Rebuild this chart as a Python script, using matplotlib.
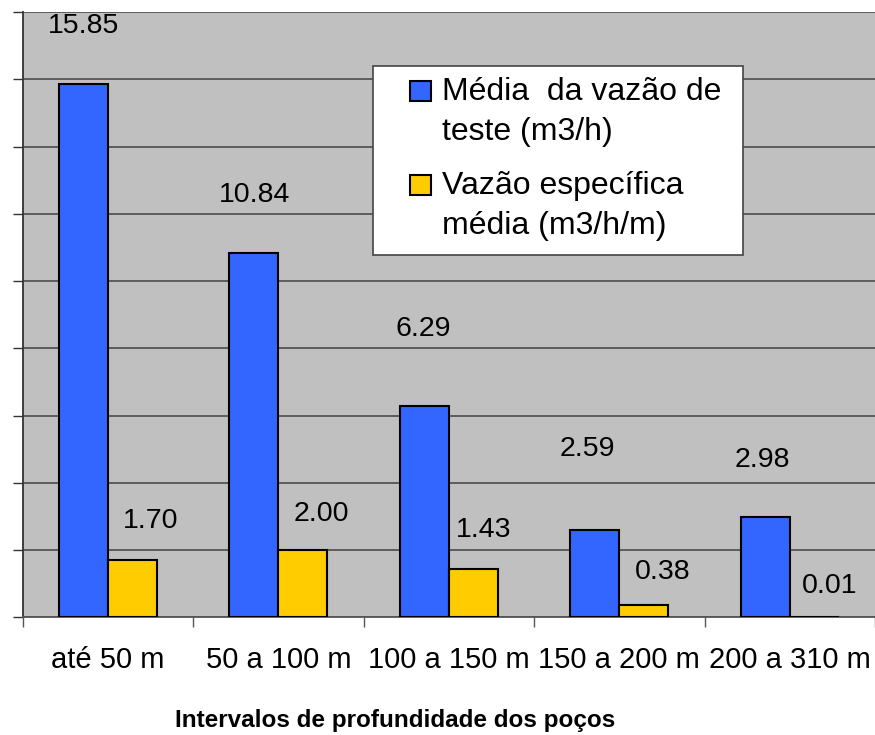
import matplotlib
matplotlib.use('Agg')
import matplotlib.pyplot as plt
from matplotlib.patches import Rectangle
import numpy as np

plt.rcParams['font.family'] = ['Liberation Sans', 'DejaVu Sans']

intervalos = ['até 50 m', '50 a 100 m', '100 a 150 m', '150 a 200 m', '200 a 310 m']
vazao_teste = [15.85, 10.84, 6.29, 2.59, 2.98]
vazao_especifica = [1.70, 2.00, 1.43, 0.38, 0.01]

legenda_teste = 'Média  da vazão de\nteste (m3/h)'
legenda_especifica = 'Vazão específica\nmédia (m3/h/m)'
titulo_x = 'Intervalos de profundidade dos poços'

# deslocamento manual dos rótulos (pixels), como no original
desl_azul = [(0, 58), (1, 58), (-1, 77), (-7, 81), (-3, 57)]
desl_amarelo = [(18, 39), (18, 36), (10, 39), (19, 33), (15, 31)]

azul = '#3366FF'
amarelo = '#FFCC00'
cinza = '#C0C0C0'

W, H = 875, 735
fig = plt.figure(figsize=(W / 100, H / 100), dpi=100)
ax = fig.add_axes([22.7 / W, 1 - 617.3 / H, 1 - 22.7 / W, (617.3 - 12) / H])
ax.set_facecolor(cinza)

x = np.arange(len(intervalos))
w = 0.288
b1 = ax.bar(x - w / 2, vazao_teste, w, color=azul, edgecolor='black', linewidth=1.5, zorder=3)
b2 = ax.bar(x + w / 2, vazao_especifica, w, color=amarelo, edgecolor='black', linewidth=1.5, zorder=3)

for rect, v, d in zip(b1, vazao_teste, desl_azul):
    ax.annotate(f'{v:.2f}', (rect.get_x() + rect.get_width() / 2, v), xytext=d,
                textcoords='offset pixels', ha='center', va='center', fontsize=20.5)
for rect, v, d in zip(b2, vazao_especifica, desl_amarelo):
    ax.annotate(f'{v:.2f}', (rect.get_x() + rect.get_width() / 2, v), xytext=d,
                textcoords='offset pixels', ha='center', va='center', fontsize=20.5)

ax.set_ylim(0, 18)
ax.set_yticks(np.arange(0, 19, 2))
ax.set_yticklabels([])
ax.set_xlim(-0.5, (W - 22.7) / 171.3 - 0.5)
ax.set_xticks(np.arange(len(intervalos) + 1) - 0.5)
ax.set_xticklabels([])
ax.set_xticks(x, minor=True)
ax.set_xticklabels(intervalos, minor=True, fontsize=21)
ax.tick_params(axis='x', which='minor', length=0, pad=21)
ax.tick_params(axis='x', which='major', length=7, width=1, color='#555555')
ax.tick_params(axis='y', length=7.5, width=1, color='#333333')
ax.grid(axis='y', color='#555555', linewidth=1.3, zorder=1)

for s in ['top', 'right']:
    ax.spines[s].set_visible(False)
ax.spines['left'].set_color('#333333')
ax.spines['left'].set_linewidth(1.3)
ax.spines['bottom'].set_color('#555555')
ax.spines['bottom'].set_linewidth(1.3)

ax.set_xlabel(titulo_x, fontsize=17.5, fontweight='bold')
ax.xaxis.set_label_coords((395 - 22.7) / 852.3, (617.3 - 709) / 605.3)

# legenda desenhada à mão para seguir o layout do Excel
def px(xp, yp):
    return xp / W, 1 - yp / H

fig.patches.append(Rectangle(px(373, 255), 370 / W, 189 / H, transform=fig.transFigure,
                             facecolor='white', edgecolor='#444444', linewidth=1.2, zorder=5))
for (texto, cor), y0 in zip([(legenda_teste, azul), (legenda_especifica, amarelo)], [81, 175]):
    fig.patches.append(Rectangle(px(410, y0 + 20), 21 / W, 20 / H, transform=fig.transFigure,
                                 facecolor=cor, edgecolor='black', linewidth=1.5, zorder=6))
    for i, linha in enumerate(texto.split('\n')):
        fig.text(*px(442, y0 + 19 + 40 * i), linha, fontsize=23, va='baseline', zorder=7)

fig.savefig('out.png', dpi=100)
